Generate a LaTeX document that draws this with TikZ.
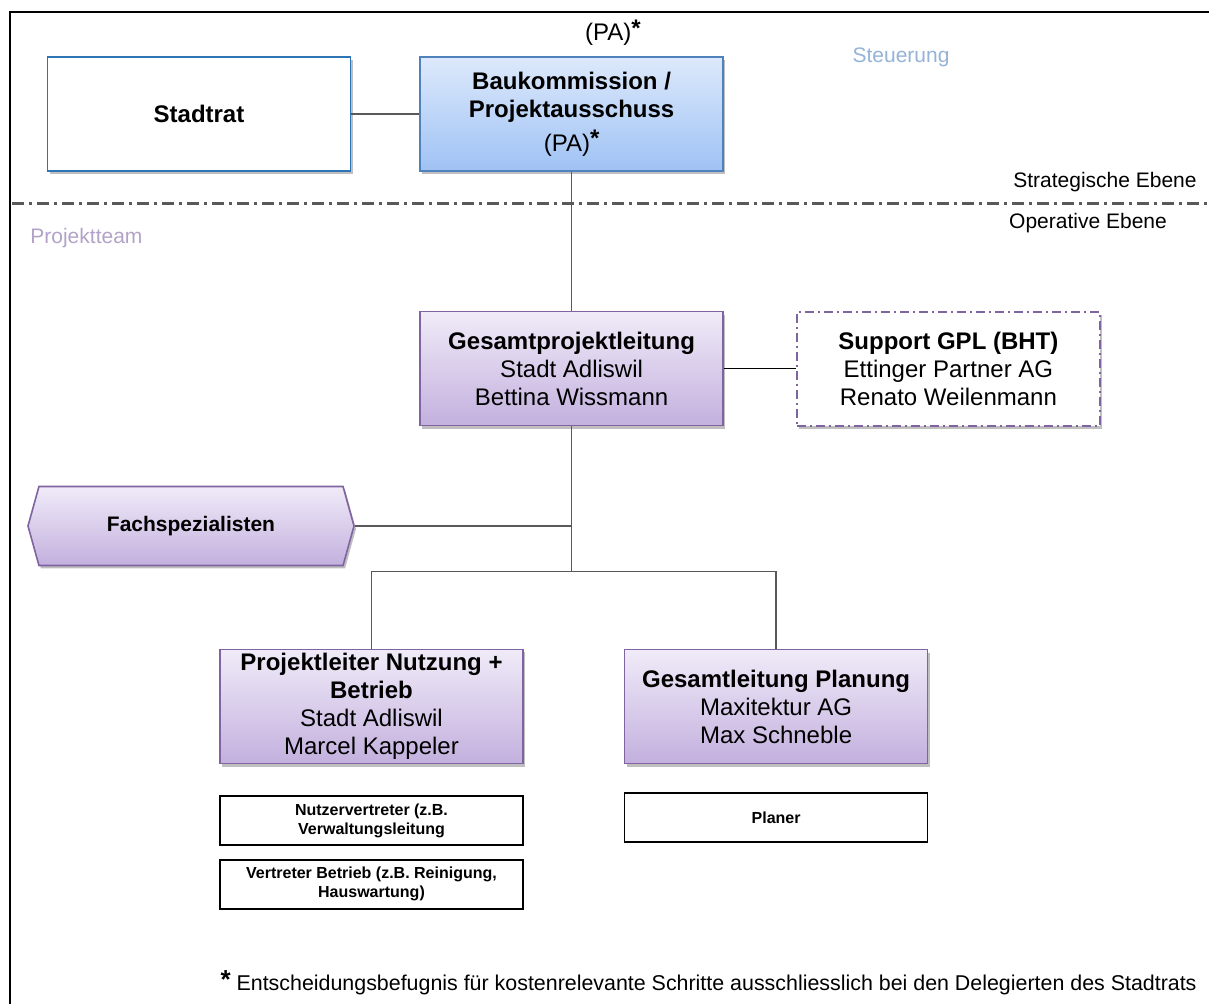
\documentclass[tikz,border=0pt]{standalone}
\usepackage{fontspec}
\setmainfont{Liberation Sans}
\usepackage{tikz}
\usetikzlibrary{positioning, shapes.symbols, shadows, calc}

\definecolor{ratblue}{HTML}{2E75B6}
\definecolor{paborder}{HTML}{4F81BD}
\definecolor{patop}{HTML}{DDE9FB}
\definecolor{pabottom}{HTML}{9FC2F4}
\definecolor{lila}{HTML}{8064A2}
\definecolor{lilatop}{HTML}{F0EBF8}
\definecolor{lilabottom}{HTML}{C3B0DE}
\definecolor{linegray}{HTML}{595959}
\definecolor{steuerblue}{HTML}{95B3D7}
\definecolor{teamlila}{HTML}{B3A2C7}

\begin{document}
\begin{tikzpicture}[
    x=0.5pt, y=-0.5pt,
    % Styles
    shadowed/.style={drop shadow={shadow xshift=1pt, shadow yshift=-1.5pt, opacity=0.25, fill=black}},
    bigbox/.style={rectangle, minimum width=151.5pt, minimum height=57pt, align=center, font=\fontsize{12}{14}\selectfont, inner sep=2pt},
    ratbox/.style={bigbox, draw=ratblue, line width=0.8pt, fill=white, shadowed},
    pabox/.style={bigbox, draw=paborder, line width=0.8pt, top color=patop, bottom color=pabottom, shadowed},
    lilabox/.style={bigbox, draw=lila, line width=0.8pt, top color=lilatop, bottom color=lilabottom, shadowed},
    supportbox/.style={bigbox, draw=lila, line width=1pt, fill=white, dash pattern=on 4.5pt off 2pt on 1pt off 2pt, shadowed},
    smallbox/.style={rectangle, draw=black, line width=0.8pt, fill=white, minimum width=151.5pt, minimum height=24.5pt, align=center, font=\fontsize{8}{9.5}\selectfont\bfseries, inner sep=1pt},
    hexbox/.style={signal, signal to=west and east, signal pointer angle=149, draw=lila, line width=0.8pt, top color=lilatop, bottom color=lilabottom, minimum width=163pt, minimum height=39.5pt, font=\fontsize{10.5}{12}\selectfont\bfseries, shadowed},
    note/.style={font=\fontsize{10.5}{12}\selectfont, inner sep=0pt},
    link/.style={draw=linegray, line width=0.7pt}
]
\useasboundingbox (0,0) rectangle (1209,1004);
% --- frame (only left and top edge visible) ---
\draw[line width=1.2pt] (10,1010) -- (10,12) -- (1215,12);

% --- Strategische Ebene ---
\node[ratbox] (stadtrat) at (199,114) {\bfseries Stadtrat};
\node[pabox, right = 34pt of stadtrat] (bauk) {\bfseries Baukommission /\\\bfseries Projektausschuss\\[3pt](PA)\raisebox{0.35ex}{\bfseries *}};
\node[font=\fontsize{12}{14}\selectfont, inner sep=0pt] (pa_top) at (613,33) {(PA)\raisebox{0.35ex}{\bfseries *}};
\node[note, text=steuerblue] (steuerung) at (901,57) {Steuerung};
\draw[link] (stadtrat) -- (bauk);

% --- Trennlinie ---
\node[note, anchor=east] (strat) at (1197,182) {Strategische Ebene};
\draw[draw=linegray, line width=1.5pt, dash pattern=on 6pt off 2.5pt on 1.5pt off 2.5pt] (12,204) -- (1209,204);
\node[note] (oper) at (1088,223) {Operative Ebene};
\node[note, text=teamlila, anchor=west] (team) at (30,238) {Projektteam};

% --- Operative Ebene ---
\node[lilabox, below = 69.5pt of bauk] (gpl) {\bfseries Gesamtprojektleitung\\Stadt Adliswil\\Bettina Wissmann};
\node[supportbox, right = 36pt of gpl] (support) {\bfseries Support GPL (BHT)\\Ettinger Partner AG\\Renato Weilenmann};
\draw[link] (bauk) -- (gpl);
\draw[line width=0.8pt] (gpl) -- (support);

\node[hexbox] (fach) at (191,526) {Fachspezialisten};
\path (gpl.south) ++(0,145) coordinate (split);
\draw[link] (gpl) -- (split);
\draw[link] (fach.east) -- (fach.east -| split);

\node[lilabox] (plnb) at (371.5,706.5) {\bfseries Projektleiter Nutzung +\\\bfseries Betrieb\\Stadt Adliswil\\Marcel Kappeler};
\node[lilabox, right = 50pt of plnb] (glp) {\bfseries Gesamtleitung Planung\\Maxitektur AG\\Max Schneble};
\draw[link] (plnb.north) |- (split) -| (glp.north);

% --- Beteiligte ---
\node[smallbox, below = 15.5pt of plnb] (nutzer) {Nutzervertreter (z.B.\\Verwaltungsleitung};
\node[smallbox, below = 6.5pt of nutzer] (betrieb) {Vertreter Betrieb (z.B. Reinigung,\\Hauswartung)};
\node[smallbox, below = 14pt of glp] (planer) {Planer};

% --- Fussnote ---
\node[font=\fontsize{10.7}{12}\selectfont, anchor=east, inner sep=0pt] (fussnote) at (1197,983) {\raisebox{0.2ex}{\fontsize{13}{13}\selectfont\bfseries *} Entscheidungsbefugnis für kostenrelevante Schritte ausschliesslich bei den Delegierten des Stadtrats};
\end{tikzpicture}
\end{document}
